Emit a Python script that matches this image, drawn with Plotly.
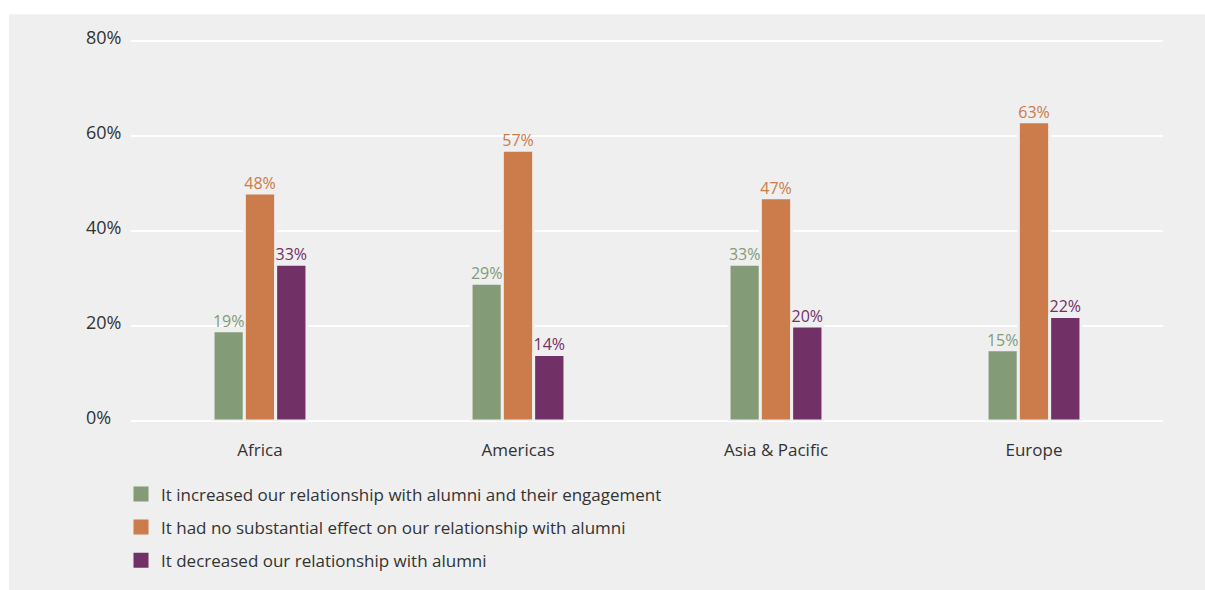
import plotly.graph_objects as go

categories = ["Africa", "Americas", "Asia & Pacific", "Europe"]
series_names = [
    "It increased our relationship with alumni and their engagement",
    "It had no substantial effect on our relationship with alumni",
    "It decreased our relationship with alumni",
]
increased = [19, 29, 33, 15]
no_effect = [48, 57, 47, 63]
decreased = [33, 14, 20, 22]
series_values = [increased, no_effect, decreased]
series_colors = ["#849b77", "#cc7b4a", "#713066"]
y_tick_values = [0, 20, 40, 60, 80]
y_tick_labels = ["0%", "20%", "40%", "60%", "80%"]

PANEL = "#eeefee"
TEXT = "#333333"
FONT = "Open Sans"
GAP = 0.636

W, H = 1205, 590
L, R, T, B = 131, 42, 36, 165
pw, ph = W - L - R, H - T - B
ytop = 80 * ph / (425 - 41)

fig = go.Figure()
for i, (name, vals, col) in enumerate(zip(series_names, series_values, series_colors)):
    fig.add_trace(go.Bar(
        x=categories, y=vals, name=name, showlegend=False,
        marker=dict(color=col, line=dict(color=PANEL, width=3)),
        offsetgroup=f"s{i}",
    ))
# value labels, grouped like the bars
for i, (vals, col) in enumerate(zip(series_values, series_colors)):
    fig.add_trace(go.Scatter(
        x=categories, y=vals, mode="text", showlegend=False,
        text=[f"{v}%" for v in vals], textposition="top center",
        textfont=dict(color=col, size=16, family=FONT),
        cliponaxis=False, offsetgroup=f"s{i}", hoverinfo="skip",
    ))
# legend swatches (square markers)
for i, (name, col) in enumerate(zip(series_names, series_colors)):
    fig.add_trace(go.Scatter(
        x=[None], y=[None], mode="markers", name=name,
        marker=dict(symbol="square", size=15, color=col),
        legendgroup=f"g{i}", showlegend=True,
    ))

# panel background
fig.add_shape(type="rect", xref="paper", yref="paper",
              x0=(9 - L) / pw, x1=(W + 20 - L) / pw,
              y0=(T + ph - H - 20) / ph, y1=(T + ph - 14) / ph,
              fillcolor=PANEL, line=dict(width=0), layer="below")

# left-aligned y tick labels
for v, t in zip(y_tick_values, y_tick_labels):
    fig.add_annotation(x=(84 - L) / pw, xref="paper", y=v, yref="y",
                       text=t, showarrow=False, xanchor="left", yanchor="middle",
                       yshift=4, font=dict(size=18, color=TEXT, family=FONT))

fig.update_layout(
    width=W, height=H,
    margin=dict(l=L, r=R, t=T, b=B),
    paper_bgcolor="white", plot_bgcolor="rgba(0,0,0,0)",
    barmode="group", bargap=GAP, bargroupgap=0,
    scattermode="group", scattergap=GAP,
    font=dict(family=FONT, size=17, color=TEXT),
    showlegend=True,
    legend=dict(orientation="v", x=(121 - L) / pw, xanchor="left",
                y=(T + ph - 481) / ph, yanchor="top",
                font=dict(size=17, color=TEXT, family=FONT),
                tracegroupgap=8, bgcolor="rgba(0,0,0,0)", itemsizing="trace"),
)
fig.update_xaxes(showgrid=False, showline=False, ticks="",
                 ticklabelstandoff=17,
                 tickfont=dict(size=17, color=TEXT, family=FONT))
fig.update_yaxes(range=[0, ytop], tickvals=y_tick_values, showticklabels=False,
                 showgrid=True, gridcolor="white", gridwidth=2,
                 zeroline=True, zerolinecolor="white", zerolinewidth=2,
                 showline=False, ticks="")

post = (
    "document.body.style.margin='0';"
    "document.documentElement.style.overflow='hidden';"
    "document.body.style.overflow='hidden';"
    "var d=document.getElementsByClassName('plotly-graph-div')[0];"
    "d.style.position='fixed';d.style.top='0px';d.style.left='0px';"
)
fig.write_html("out.html", config={"displayModeBar": False}, post_script=post)
